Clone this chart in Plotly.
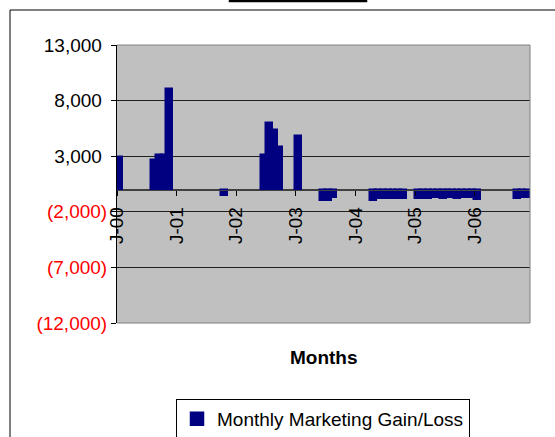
import plotly.graph_objects as go

# ---- data ----
months = [
    "2000-01", "2000-08", "2000-09", "2000-10", "2000-11",
    "2001-10",
    "2002-06", "2002-07", "2002-08", "2002-09",
    "2003-01", "2003-06", "2003-07", "2003-08",
    "2004-04", "2004-05", "2004-06", "2004-07", "2004-08", "2004-09", "2004-10",
    "2005-01", "2005-02", "2005-03", "2005-04", "2005-05", "2005-06", "2005-07",
    "2005-08", "2005-09", "2005-10", "2005-11", "2005-12", "2006-01",
    "2006-09", "2006-10", "2006-11",
]
gain_loss = [
    2900, 2700, 3150, 3150, 9000,
    -500,
    3100, 6000, 5400, 3800,
    4800, -900, -900, -650,
    -900, -800, -750, -800, -800, -750, -800,
    -800, -800, -750, -700, -700, -750, -700,
    -700, -750, -700, -700, -700, -850,
    -750, -700, -700,
]
tick_labels = ["J-00", "J-01", "J-02", "J-03", "J-04", "J-05", "J-06"]
y_ticks = [-12000, -7000, -2000, 3000, 8000, 13000]
series_name = "Monthly Marketing Gain/Loss"
x_title = "Months"

# ---- derived ----
start_year = 2000
month_index = [(int(m[:4]) - start_year) * 12 + int(m[5:7]) - 1 for m in months]
x_pos = [i + 0.5 for i in month_index]
tick_vals = [12 * k for k in range(len(tick_labels))]


def fmt(v):
    if v < 0:
        return '<span style="color:#FF0000">({:,})</span>'.format(-v)
    return "{:,}\u00a0".format(v)


y_text = [fmt(v) for v in y_ticks]

W, H = 555, 437
L, R, T, B = 117, 25, 45, 114
PW, PH = W - L - R, H - T - B


def fx(px):
    return (px - L) / PW


def fy(py):
    return (H - B - py) / PH


FONT = "Arial, Liberation Sans, sans-serif"
NAVY = "#000080"

fig = go.Figure()
fig.add_trace(go.Bar(
    x=x_pos, y=gain_loss, width=1.2, name=series_name,
    marker=dict(color=NAVY, line=dict(color=NAVY, width=2.5)),
    showlegend=True,
))

y_min, y_max = y_ticks[0], y_ticks[-1]
fig.update_layout(
    width=W, height=H,
    margin=dict(l=L, r=R, t=T, b=B, pad=0, autoexpand=False),
    paper_bgcolor="white",
    plot_bgcolor="#C0C0C0",
    font=dict(family=FONT, size=19, color="black"),
    bargap=0,
    xaxis=dict(
        range=[0, 83.1],
        anchor="free",
        position=(0 - y_min) / (y_max - y_min),
        tickmode="array", tickvals=tick_vals, ticktext=tick_labels,
        tickangle=-90,
        ticks="outside", ticklen=5, tickcolor="black",
        ticklabelstandoff=4,
        showline=True, linecolor="#404040", linewidth=1,
        showgrid=False, zeroline=False,
        tickfont=dict(family=FONT, size=19, color="black"),
        fixedrange=True,
    ),
    yaxis=dict(
        range=[y_min, y_max],
        tickmode="array", tickvals=y_ticks, ticktext=y_text,
        ticks="outside", ticklen=5, tickcolor="black",
        showline=True, linecolor="black", linewidth=1,
        showgrid=True, gridcolor="#202020", gridwidth=1,
        zeroline=True, zerolinecolor="#404040", zerolinewidth=1,
        tickfont=dict(family=FONT, size=19, color="black"),
        fixedrange=True,
    ),
    legend=dict(
        x=fx(176), y=fy(399), xanchor="left", yanchor="top",
        bordercolor="black", borderwidth=1, bgcolor="white",
        font=dict(family=FONT, size=19, color="black"),
        itemwidth=30, orientation="h",
    ),
    annotations=[dict(
        text="<b>%s</b>" % x_title, x=0.5, y=fy(357), xref="paper", yref="paper",
        showarrow=False, xanchor="center", yanchor="middle",
        font=dict(family=FONT, size=19, color="black"),
    )],
    shapes=[
        # plot-area border (top, right, bottom)
        dict(type="line", xref="paper", yref="paper", x0=0, x1=1, y0=1, y1=1,
             line=dict(color="#808080", width=1), layer="above"),
        dict(type="line", xref="paper", yref="paper", x0=1, x1=1, y0=0, y1=1,
             line=dict(color="#808080", width=1), layer="above"),
        dict(type="line", xref="paper", yref="paper", x0=0, x1=1, y0=0, y1=0,
             line=dict(color="#808080", width=1), layer="above"),
        # outer chart border
        dict(type="line", xref="paper", yref="paper", x0=fx(10), x1=fx(10),
             y0=fy(10), y1=fy(450), line=dict(color="black", width=1)),
        dict(type="line", xref="paper", yref="paper", x0=fx(10), x1=fx(570),
             y0=fy(10), y1=fy(10), line=dict(color="black", width=1)),
        # title box (mostly above the visible area)
        dict(type="rect", xref="paper", yref="paper", x0=fx(230), x1=fx(366),
             y0=fy(1), y1=fy(-30), fillcolor="white",
             line=dict(color="black", width=2.5)),
    ],
)

fig.write_html("out.html", config={"displayModeBar": False},
               post_script="document.body.style.margin='0';")
